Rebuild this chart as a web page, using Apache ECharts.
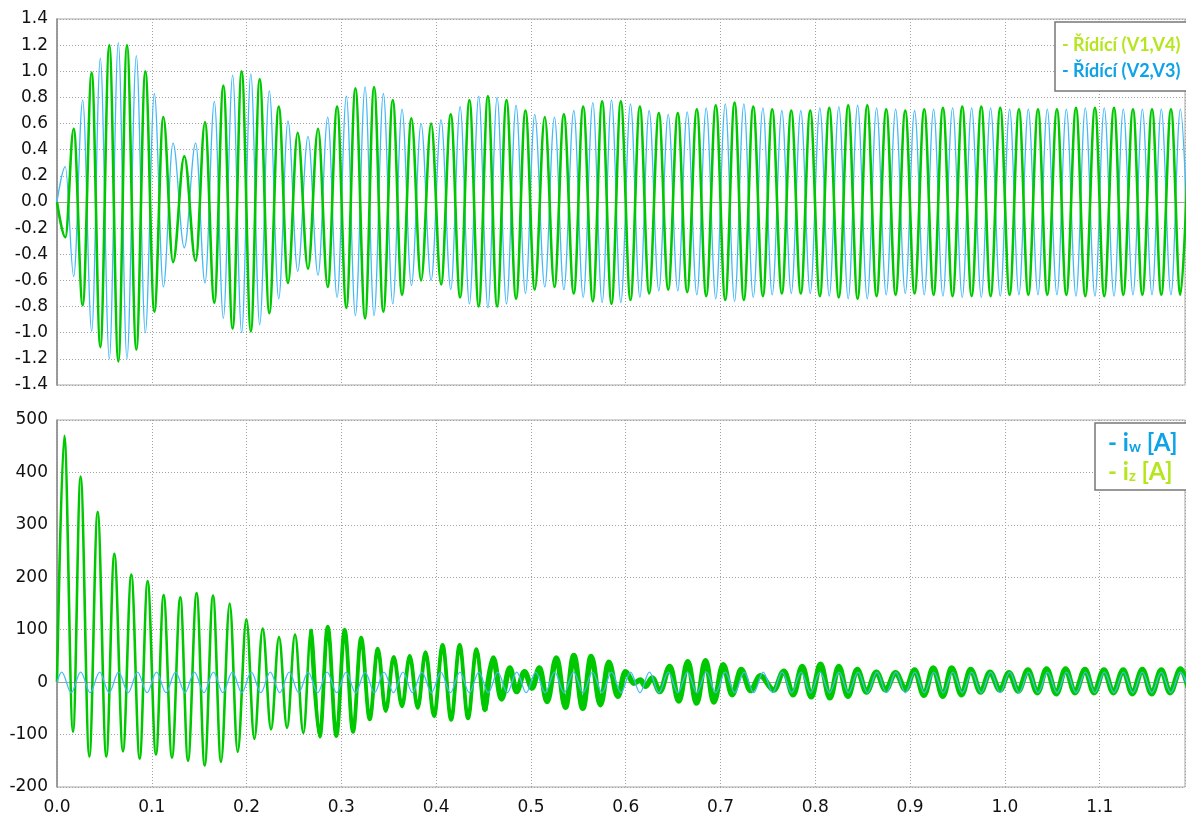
<!DOCTYPE html>
<html>
<head>
<meta charset="utf-8">
<title>Řídící signály a proudy</title>
<script src="https://cdn.jsdelivr.net/npm/echarts@6.0.0/dist/echarts.min.js"></script>
<style>
  html, body { margin: 0; padding: 0; background: #ffffff; }
  #chart { width: 1186px; height: 817px; }
</style>
</head>
<body>
<div id="chart"></div>
<script>
// Control signals: time [s] of each extreme and the value at that extreme
const ctrlTimes = [
  0, 0.0088, 0.0176, 0.0271, 0.0366, 0.0457, 0.0552, 0.0647, 0.0738, 0.0837,
  0.0932, 0.1027, 0.1122, 0.1224, 0.1343, 0.1463, 0.1561, 0.1660, 0.1755, 0.1853,
  0.1948, 0.2045, 0.2138, 0.2240, 0.2339, 0.2437, 0.2539, 0.2648, 0.2754, 0.2856,
  0.2955, 0.3053, 0.3148, 0.3250, 0.3345, 0.3443, 0.3542, 0.3640, 0.3739, 0.3841,
  0.3947, 0.4052, 0.4154, 0.4253, 0.4351, 0.4449, 0.4546, 0.4643, 0.4742, 0.4843,
  0.4942, 0.5040, 0.5146, 0.5248, 0.5347, 0.5452, 0.5551, 0.5653, 0.5751, 0.5850,
  0.5948, 0.6050, 0.6149, 0.6247, 0.6349, 0.6448, 0.6549, 0.6648, 0.6750, 0.6849,
  0.6950, 0.7050, 0.7148, 0.7246, 0.7345, 0.7447, 0.7545, 0.7647, 0.7746, 0.7847,
  0.7946, 0.8048, 0.8147, 0.8248, 0.8347, 0.8446, 0.8548, 0.8646, 0.8748, 0.8847,
  0.8949, 0.9047, 0.9149, 0.9248, 0.9346, 0.9448, 0.9550, 0.9649, 0.9751, 0.9849,
  0.9951, 1.0050, 1.0148, 1.0247, 1.0349, 1.0447, 1.0549, 1.0648, 1.0750, 1.0848,
  1.0950, 1.1048, 1.1151, 1.1249, 1.1351, 1.1450, 1.1552, 1.1650, 1.1752, 1.1851,
  1.1949
];
const ctrlV14 = [
  0, -0.27, 0.56, -0.79, 0.99, -1.11, 1.20, -1.22, 1.20, -1.13,
  1.00, -0.84, 0.65, -0.46, 0.35, -0.45, 0.61, -0.77, 0.89, -0.97,
  1.00, -0.99, 0.94, -0.85, 0.73, -0.62, 0.53, -0.51, 0.56, -0.65,
  0.73, -0.81, 0.87, -0.89, 0.88, -0.84, 0.78, -0.71, 0.64, -0.60,
  0.60, -0.63, 0.67, -0.73, 0.78, -0.80, 0.81, -0.80, 0.78, -0.74,
  0.70, -0.67, 0.65, -0.65, 0.67, -0.70, 0.73, -0.76, 0.77, -0.78,
  0.77, -0.75, 0.73, -0.70, 0.68, -0.67, 0.68, -0.69, 0.71, -0.72,
  0.74, -0.75, 0.76, -0.75, 0.73, -0.72, 0.71, -0.70, 0.70, -0.70,
  0.70, -0.72, 0.72, -0.73, 0.74, -0.74, 0.74, -0.72, 0.71, -0.71,
  0.70, -0.70, 0.71, -0.71, 0.72, -0.72, 0.73, -0.72, 0.73, -0.72,
  0.72, -0.71, 0.71, -0.71, 0.71, -0.71, 0.71, -0.71, 0.72, -0.72,
  0.72, -0.72, 0.72, -0.71, 0.71, -0.71, 0.71, -0.71, 0.71, -0.71,
  0.71
];
const ctrlV23 = [
  0, 0.27, -0.57, 0.78, -0.99, 1.10, -1.20, 1.22, -1.20, 1.12,
  -1.00, 0.83, -0.65, 0.45, -0.35, 0.45, -0.62, 0.77, -0.89, 0.97,
  -1.00, 0.98, -0.94, 0.85, -0.74, 0.62, -0.53, 0.50, -0.56, 0.65,
  -0.73, 0.81, -0.87, 0.88, -0.87, 0.83, -0.78, 0.71, -0.64, 0.60,
  -0.60, 0.63, -0.67, 0.73, -0.78, 0.81, -0.81, 0.80, -0.78, 0.74,
  -0.70, 0.67, -0.65, 0.65, -0.67, 0.70, -0.73, 0.76, -0.77, 0.78,
  -0.77, 0.75, -0.73, 0.70, -0.68, 0.67, -0.68, 0.69, -0.71, 0.72,
  -0.74, 0.75, -0.76, 0.75, -0.73, 0.72, -0.71, 0.70, -0.70, 0.70,
  -0.70, 0.72, -0.72, 0.73, -0.74, 0.74, -0.74, 0.72, -0.71, 0.71,
  -0.70, 0.70, -0.71, 0.71, -0.72, 0.72, -0.73, 0.72, -0.73, 0.72,
  -0.72, 0.71, -0.71, 0.71, -0.71, 0.71, -0.71, 0.71, -0.72, 0.72,
  -0.72, 0.72, -0.72, 0.71, -0.71, 0.71, -0.71, 0.71, -0.71, 0.71,
  -0.71
];

// Currents: extremes of i_z [A]
const izTimes = [
  0, 0.0077, 0.0169, 0.0249, 0.0341, 0.0429, 0.0520, 0.0605, 0.0696, 0.0784,
  0.0872, 0.0956, 0.1044, 0.1125, 0.1213, 0.1301, 0.1382, 0.1473, 0.1558, 0.1646,
  0.1730, 0.1822, 0.1906, 0.1998, 0.2082, 0.2170, 0.2258, 0.2342, 0.2427, 0.2511,
  0.2599, 0.2680, 0.2772, 0.2856, 0.2947, 0.3035, 0.3123, 0.3208, 0.3299, 0.3384,
  0.3468, 0.3552, 0.3640, 0.3721, 0.3806, 0.3888, 0.3978, 0.4068, 0.4158, 0.4248,
  0.4336, 0.4425, 0.4513, 0.4601, 0.4689, 0.4777, 0.4847, 0.4932, 0.5012, 0.5090,
  0.5170, 0.5269, 0.5364, 0.5452, 0.5547, 0.5635, 0.5733, 0.5821, 0.5916, 0.5997,
  0.6085, 0.6156, 0.6208, 0.6279, 0.6360, 0.6465, 0.6560, 0.6655, 0.6747, 0.6842,
  0.6929, 0.7028, 0.7123, 0.7218, 0.7316, 0.7420, 0.7562, 0.7668, 0.7767, 0.7862,
  0.7957, 0.8055, 0.8153, 0.8248, 0.8343, 0.8442, 0.8540, 0.8643, 0.8741, 0.8846,
  0.8952, 0.9047, 0.9146, 0.9244, 0.9346, 0.9438, 0.9543, 0.9638, 0.9744, 0.9842,
  0.9948, 1.0043, 1.0141, 1.0243, 1.0342, 1.0440, 1.0542, 1.0640, 1.0739, 1.0845,
  1.0940, 1.1045, 1.1144, 1.1249, 1.1344, 1.1450, 1.1548, 1.1650, 1.1742, 1.1854,
  1.1950
];
const izValues = [
  0, 470, -95, 392, -142, 325, -142, 245, -132, 205,
  -146, 193, -138, 166, -144, 162, -150, 170, -159, 165,
  -152, 150, -133, 120, -108, 102, -90, 86, -87, 91,
  -97, 100, -104, 106, -103, 100, -95, 85, -71, 64,
  -55, 48, -46, 50, -49, 57, -65, 71, -72, 71,
  -69, 63, -54, 46, -32, 27, -18, 20, -11, 27,
  -37, 46, -48, 51, -50, 49, -43, 38, -27, 20,
  -2, 4, -8, 8, -18, 30, -36, 39, -40, 41,
  -38, 33, -24, 24, -16, 12, -15, 21, -24, 30,
  -28, 34, -30, 30, -27, 24, -19, 19, -15, 18,
  -14, 23, -25, 27, -27, 27, -24, 24, -19, 19,
  -15, 18, -17, 23, -20, 25, -22, 25, -20, 24,
  -20, 23, -20, 23, -22, 24, -22, 23, -20, 25,
  -20
];

// Extremes of i_w [A]
const iwTimes = [
  0,
  0.005, 0.015, 0.025, 0.035, 0.045, 0.055, 0.065, 0.075, 0.085, 0.095,
  0.105, 0.115, 0.125, 0.135, 0.145, 0.155, 0.165, 0.175, 0.185, 0.195,
  0.205, 0.215, 0.225, 0.235, 0.245, 0.255, 0.265, 0.275, 0.285, 0.295,
  0.305, 0.315, 0.325, 0.335, 0.345, 0.355, 0.365, 0.375, 0.385, 0.395,
  0.405, 0.415, 0.425, 0.435, 0.445, 0.455, 0.465, 0.475, 0.485, 0.495,
  0.505, 0.515, 0.525, 0.535, 0.545, 0.555, 0.565, 0.575, 0.585, 0.595,
  0.605, 0.615, 0.625, 0.635, 0.645, 0.655, 0.665, 0.675, 0.685, 0.695,
  0.705, 0.715, 0.725, 0.735, 0.745, 0.755, 0.765, 0.775, 0.785, 0.795,
  0.805, 0.815, 0.825, 0.835, 0.845, 0.855, 0.865, 0.875, 0.885, 0.895,
  0.905, 0.915, 0.925, 0.935, 0.945, 0.955, 0.965, 0.975, 0.985, 0.995,
  1.005, 1.015, 1.025, 1.035, 1.045, 1.055, 1.065, 1.075, 1.085, 1.095,
  1.105, 1.115, 1.125, 1.135, 1.145, 1.155, 1.165, 1.175, 1.185, 1.195
];
const iwValues = [
  0,
  19, -20, 19, -20, 19, -20, 19, -20, 19, -20,
  19, -20, 19, -20, 19, -20, 19, -20, 19, -20,
  19, -20, 19, -20, 19, -20, 19, -20, 19, -20,
  19, -20, 19, -20, 19, -20, 19, -20, 19, -20,
  19, -20, 19, -20, 19, -20, 19, -20, 19, -20,
  19, -20, 19, -20, 19, -20, 19, -20, 19, -20,
  19, -20, 19, -20, 19, -20, 19, -20, 19, -20,
  19, -20, 19, -20, 19, -20, 19, -20, 19, -20,
  19, -20, 19, -20, 19, -20, 19, -20, 19, -20,
  19, -20, 19, -20, 19, -20, 19, -20, 19, -20,
  19, -20, 19, -20, 19, -20, 19, -20, 19, -20,
  19, -20, 19, -20, 19, -20, 19, -20, 19, -20
];

// Axis ticks
const timeTicks = { min: 0, max: 1.19, step: 0.1 };
const ctrlTicks = { min: -1.4, max: 1.4, step: 0.2 };
const currentTicks = { min: -200, max: 500, step: 100 };

const pairs = (ts, vs) => ts.map((t, i) => [t, vs[i]]);

const GREEN = '#00c800';
const BLUE = '#45b9f7';
const LEGEND_GREEN = '#b5e61d';
const LEGEND_BLUE = '#0ea2e6';

const labelFont = { fontFamily: 'DejaVu Sans', fontSize: 17, color: '#111111' };
const gridLine = { show: true, lineStyle: { color: '#a3a3a3', width: 1, type: [1, 2] } };

function timeAxis(gridIndex, showLabels) {
  return {
    type: 'value', gridIndex,
    min: timeTicks.min, max: timeTicks.max, interval: timeTicks.step,
    axisTick: { show: false },
    axisLine: { show: true, lineStyle: { color: '#a0a0a0', width: 1 } },
    splitLine: gridLine,
    axisLabel: Object.assign({
      show: showLabels, margin: 12, showMaxLabel: false,
      formatter: v => v.toFixed(1)
    }, labelFont)
  };
}

function valueAxis(gridIndex, ticks, digits) {
  return {
    type: 'value', gridIndex,
    min: ticks.min, max: ticks.max, interval: ticks.step,
    axisTick: { show: false },
    axisLine: { show: true, onZero: false, lineStyle: { color: '#8a8a8a', width: 1.5 } },
    splitLine: gridLine,
    axisLabel: Object.assign({
      margin: 9,
      formatter: v => (Math.abs(v) < 1e-9 ? 0 : v).toFixed(digits)
    }, labelFont)
  };
}

const waveLine = (name, xi, yi, data, color, width, z) => ({
  name, type: 'line', xAxisIndex: xi, yAxisIndex: yi, data,
  showSymbol: false, symbol: 'none',
  smooth: 0.36, smoothMonotone: 'x',
  lineStyle: { color, width, join: 'round' },
  z, silent: true
});

const izData = pairs(izTimes, izValues);

const option = {
  animation: false,
  backgroundColor: '#ffffff',
  grid: [
    { left: 57, right: 1, top: 19, height: 366, show: true, borderColor: '#c6c6c6', borderWidth: 1.5 },
    { left: 57, right: 1, top: 420, height: 367, show: true, borderColor: '#a8a8a8', borderWidth: 1 }
  ],
  xAxis: [timeAxis(0, false), timeAxis(1, true)],
  yAxis: [valueAxis(0, ctrlTicks, 1), valueAxis(1, currentTicks, 0)],
  series: [
    waveLine('Řídící (V2,V3)', 0, 0, pairs(ctrlTimes, ctrlV23), BLUE, 1.3, 2),
    waveLine('Řídící (V1,V4)', 0, 0, pairs(ctrlTimes, ctrlV14), GREEN, 2.6, 3),
    waveLine('iz [A]', 1, 1, izData, GREEN, 2.6, 2),
    // switching ripple widens the i_z trace later in the run
    waveLine('iz [A] ripple', 1, 1, izData.filter(p => p[0] >= 0.268), GREEN, 3.8, 2),
    waveLine('iz [A] ripple+', 1, 1, izData.filter(p => p[0] >= 0.4513), GREEN, 5.5, 2),
    waveLine('iw [A]', 1, 1, pairs(iwTimes, iwValues), BLUE, 1.3, 4)
  ],
  graphic: [
    {
      type: 'rect', z: 100,
      shape: { x: 1055, y: 22, width: 200, height: 69 },
      style: { fill: '#ffffff', stroke: '#777777', lineWidth: 1.5 }
    },
    {
      type: 'text', z: 101, x: 1062, y: 45,
      style: { text: '- Řídící (V1,V4)', fill: LEGEND_GREEN, font: 'bold 18px Lato', verticalAlign: 'middle' }
    },
    {
      type: 'text', z: 101, x: 1062, y: 71,
      style: { text: '- Řídící (V2,V3)', fill: LEGEND_BLUE, font: 'bold 18px Lato', verticalAlign: 'middle' }
    },
    {
      type: 'rect', z: 100,
      shape: { x: 1095, y: 423, width: 200, height: 67 },
      style: { fill: '#ffffff', stroke: '#777777', lineWidth: 1.5 }
    },
    {
      type: 'text', z: 101, x: 1108, y: 443,
      style: {
        text: '{m|- i}{s|w}{m| [A]}', verticalAlign: 'middle',
        rich: {
          m: { fill: LEGEND_BLUE, font: 'bold 24px Lato' },
          s: { fill: LEGEND_BLUE, font: 'bold 15px Lato', verticalAlign: 'bottom' }
        }
      }
    },
    {
      type: 'text', z: 101, x: 1108, y: 472,
      style: {
        text: '{m|- i}{s|z}{m| [A]}', verticalAlign: 'middle',
        rich: {
          m: { fill: LEGEND_GREEN, font: 'bold 24px Lato' },
          s: { fill: LEGEND_GREEN, font: 'bold 15px Lato', verticalAlign: 'bottom' }
        }
      }
    }
  ]
};

const chart = echarts.init(document.getElementById('chart'), null, { renderer: 'canvas' });
chart.setOption(option);
</script>
</body>
</html>
